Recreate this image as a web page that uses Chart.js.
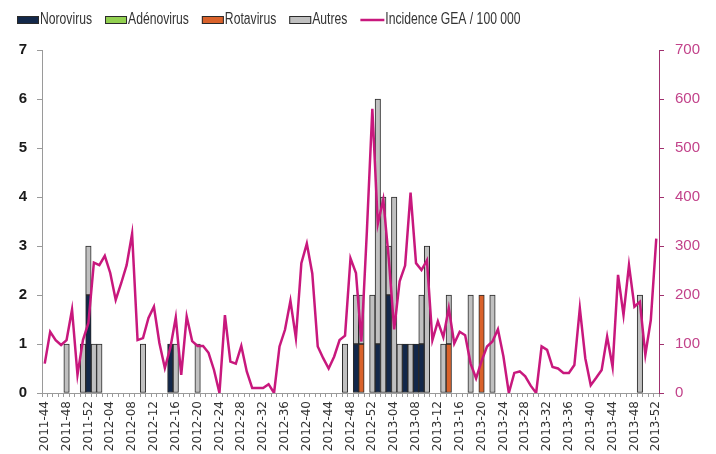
<!DOCTYPE html>
<html>
<head>
<meta charset="utf-8">
<script src="https://cdn.jsdelivr.net/npm/chart.js@4.4.1/dist/chart.umd.min.js"></script>
<style>
html,body{margin:0;padding:0;background:#ffffff;}
canvas{display:block;}
</style>
</head>
<body>
<canvas id="c" width="716" height="454"></canvas>
<script>
// ---- categories (weeks) ----
const weeks = [
 '2011-44','2011-45','2011-46','2011-47','2011-48','2011-49','2011-50','2011-51','2011-52',
 '2012-01','2012-02','2012-03','2012-04','2012-05','2012-06','2012-07','2012-08','2012-09','2012-10',
 '2012-11','2012-12','2012-13','2012-14','2012-15','2012-16','2012-17','2012-18','2012-19','2012-20',
 '2012-21','2012-22','2012-23','2012-24','2012-25','2012-26','2012-27','2012-28','2012-29','2012-30',
 '2012-31','2012-32','2012-33','2012-34','2012-35','2012-36','2012-37','2012-38','2012-39','2012-40',
 '2012-41','2012-42','2012-43','2012-44','2012-45','2012-46','2012-47','2012-48','2012-49','2012-50',
 '2012-51','2012-52',
 '2013-01','2013-02','2013-03','2013-04','2013-05','2013-06','2013-07','2013-08','2013-09','2013-10',
 '2013-11','2013-12','2013-13','2013-14','2013-15','2013-16','2013-17','2013-18','2013-19','2013-20',
 '2013-21','2013-22','2013-23','2013-24','2013-25','2013-26','2013-27','2013-28','2013-29','2013-30',
 '2013-31','2013-32','2013-33','2013-34','2013-35','2013-36','2013-37','2013-38','2013-39','2013-40',
 '2013-41','2013-42','2013-43','2013-44','2013-45','2013-46','2013-47','2013-48','2013-49','2013-50',
 '2013-51','2013-52'
];

// ---- tick labels shown on the x axis ----
const shownWeeks = [
 '2011-44','2011-48','2011-52',
 '2012-04','2012-08','2012-12','2012-16','2012-20','2012-24','2012-28','2012-32','2012-36','2012-40','2012-44','2012-48','2012-52',
 '2013-04','2013-08','2013-12','2013-16','2013-20','2013-24','2013-28','2013-32','2013-36','2013-40','2013-44','2013-48','2013-52'
];

// ---- series: number of outbreaks by agent (left axis) ----
const norovirus = [
 null,null,null,null,null,null,null,null,2,null,
 null,null,null,null,null,null,null,null,null,null,
 null,null,null,1,null,null,null,null,null,null,
 null,null,null,null,null,null,null,null,null,null,
 null,null,null,null,null,null,null,null,null,null,
 null,null,null,null,null,null,null,1,null,null,
 null,1,null,2,null,null,1,null,1,1,
 null,null,null,null,null,null,null,null,null,null,
 null,null,null,null,null,null,null,null,null,null,
 null,null,null,null,null,null,null,null,null,null,
 null,null,null,null,null,null,null,null,null,null,
 null,null,null
];
const adenovirus = [];
const rotavirus = [
 null,null,null,null,null,null,null,null,null,null,
 null,null,null,null,null,null,null,null,null,null,
 null,null,null,null,null,null,null,null,null,null,
 null,null,null,null,null,null,null,null,null,null,
 null,null,null,null,null,null,null,null,null,null,
 null,null,null,null,null,null,null,null,1,null,
 null,null,null,null,null,null,null,null,null,null,
 null,null,null,null,1,null,null,null,null,null,
 2,null,null,null,null,null,null,null,null,null,
 null,null,null,null,null,null,null,null,null,null,
 null,null,null,null,null,null,null,null,null,null,
 null,null,null
];
const autres = [
 null,null,null,null,1,null,null,1,1,1,
 1,null,null,null,null,null,null,null,1,null,
 null,null,null,null,1,null,null,null,1,null,
 null,null,null,null,null,null,null,null,null,null,
 null,null,null,null,null,null,null,null,null,null,
 null,null,null,null,null,1,null,1,1,null,
 2,5,4,1,4,1,null,1,null,1,
 3,null,null,1,1,null,null,null,2,null,
 null,null,2,null,null,null,null,null,null,null,
 null,null,null,null,null,null,null,null,null,null,
 null,null,null,null,null,null,null,null,null,2,
 null,null,null
];

// ---- series: incidence GEA / 100 000 (right axis) ----
const incidence = [
 60,125,108,98,108,170,37,108,143,266,
 261,280,245,190,224,261,325,108,112,153,
 176,102,51,92,154,37,156,106,96,96,
 82,47,0,159,64,60,96,44,10,10,
 10,18,0,95,129,188,112,265,305,244,
 95,71,50,74,108,117,275,245,105,330,
 580,345,395,275,130,228,260,409,265,251,
 271,108,146,114,173,101,125,118,60,30,
 65,95,105,130,75,0,41,44,34,15,
 0,95,88,53,50,41,41,57,173,71,
 16,31,47,115,53,241,159,261,176,186,
 78,149,315
];

const NAVY = '#13284A', GREEN = '#92D050', ORANGE = '#D9622B', GRAY = '#C0C0C0';
const EDGE = '#2a2a2a', MAGENTA = '#C8187D';

function barSet(label, data, color) {
  return {
    type: 'bar', label: label, data: data,
    backgroundColor: color, borderColor: EDGE, borderWidth: 1, borderSkipped: false,
    yAxisID: 'y', order: 1,
    categoryPercentage: 1, barPercentage: 1
  };
}

// legend drawn from the datasets, with horizontally condensed text
const condensedLegend = {
  id: 'condensedLegend',
  afterDraw(chart) {
    const ctx = chart.ctx;
    const sx = 0.76;
    let x = 17;
    const cy = 20;
    ctx.save();
    ctx.font = "16px 'Liberation Sans', Arial, sans-serif";
    ctx.textBaseline = 'middle';
    ctx.textAlign = 'left';
    chart.data.datasets.forEach(ds => {
      if (ds.type === 'line') {
        ctx.strokeStyle = ds.borderColor;
        ctx.lineWidth = 2.5;
        ctx.beginPath();
        ctx.moveTo(x, cy);
        ctx.lineTo(x + 24, cy);
        ctx.stroke();
        x += 25;
      } else {
        ctx.fillStyle = ds.backgroundColor;
        ctx.fillRect(x, cy - 4, 22, 8);
        ctx.strokeStyle = ds.borderColor;
        ctx.lineWidth = 1;
        ctx.strokeRect(x + 0.5, cy - 3.5, 21, 7);
        x += 23;
      }
      const w = ctx.measureText(ds.label).width * sx;
      ctx.save();
      ctx.translate(x, cy - 0.5);
      ctx.scale(sx, 1);
      ctx.fillStyle = '#333';
      ctx.fillText(ds.label, 0, 0);
      ctx.restore();
      x += w + 13;
    });
    ctx.restore();
  }
};

new Chart(document.getElementById('c'), {
  data: {
    labels: weeks,
    datasets: [
      barSet('Norovirus', norovirus, NAVY),
      barSet('Adénovirus', adenovirus, GREEN),
      barSet('Rotavirus', rotavirus, ORANGE),
      barSet('Autres', autres, GRAY),
      {
        type: 'line', label: 'Incidence GEA / 100 000', data: incidence,
        borderColor: MAGENTA, backgroundColor: MAGENTA, borderWidth: 2.5,
        pointRadius: 0, tension: 0, yAxisID: 'y1', order: 0
      }
    ]
  },
  options: {
    responsive: false, animation: false, devicePixelRatio: 1,
    layout: { padding: { left: 10, top: 50, right: 0, bottom: 0 } },
    plugins: {
      legend: { display: false },
      tooltip: { enabled: false }
    },
    scales: {
      x: {
        stacked: true, offset: true,
        grid: { drawOnChartArea: false, drawTicks: true, tickLength: 4, color: '#9a9a9a' },
        border: { color: '#9a9a9a', width: 1 },
        ticks: {
          autoSkip: false, maxRotation: 90, minRotation: 90, padding: 4,
          color: '#333', font: { family: "'DejaVu Sans', sans-serif", size: 12 },
          callback: function (v, i) { return shownWeeks.includes(weeks[i]) ? weeks[i] : ''; }
        },
        afterFit: (s) => { s.height = 61; }
      },
      y: {
        position: 'left', stacked: true, min: 0, max: 7,
        grid: { drawOnChartArea: false, drawTicks: true, tickLength: 5, color: '#9a9a9a' },
        border: { color: '#9a9a9a', width: 1 },
        ticks: { stepSize: 1, padding: 10, color: '#1a1a1a', font: { family: "'Liberation Sans', Arial, sans-serif", size: 15, weight: 'bold' } },
        afterFit: (s) => { s.width = 32; }
      },
      y1: {
        position: 'right', min: 0, max: 700,
        grid: { drawOnChartArea: false, drawTicks: true, tickLength: 5, color: '#A0306E' },
        border: { color: '#A0306E', width: 1 },
        ticks: { stepSize: 100, padding: 11, color: '#C2428A', font: { family: "'Liberation Sans', Arial, sans-serif", size: 15 } },
        afterFit: (s) => { s.width = 57; }
      }
    }
  },
  plugins: [condensedLegend]
});
</script>
</body>
</html>
